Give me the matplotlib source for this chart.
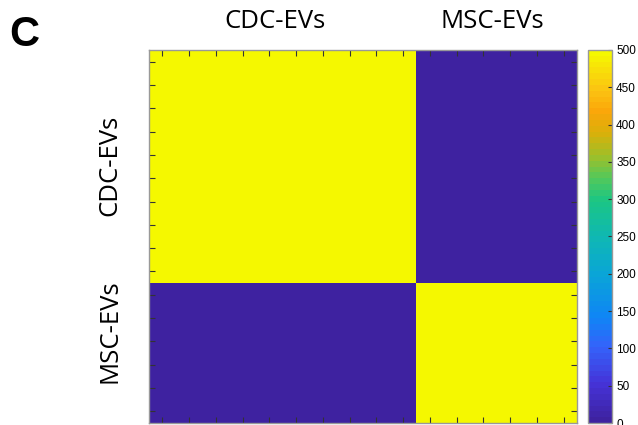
import numpy as np
import matplotlib
matplotlib.use("Agg")
import matplotlib.pyplot as plt
from matplotlib.colors import LinearSegmentedColormap

# ---- data ----
groups = ["CDC-EVs", "MSC-EVs"]
group_sizes = [10, 6]
within_value = 500
between_value = 0
cbar_ticks = [0, 50, 100, 150, 200, 250, 300, 350, 400, 450, 500]

n = sum(group_sizes)
labels = np.repeat(np.arange(len(groups)), group_sizes)
matrix = np.where(labels[:, None] == labels[None, :], within_value, between_value)

# parula-like colormap
anchors = [
    (0.00, "#3e22a0"), (0.10, "#4533d8"), (0.20, "#3463fa"), (0.28, "#0f85f5"),
    (0.40, "#0aa6d6"), (0.50, "#0fb8b2"), (0.60, "#1cc683"), (0.66, "#55c85a"),
    (0.72, "#a0bf28"), (0.78, "#d8b00a"), (0.84, "#fba60a"), (0.90, "#fbc412"),
    (1.00, "#f5f800"),
]
cmap = LinearSegmentedColormap.from_list("parula_like", anchors, N=64)

fig = plt.figure(figsize=(6.38, 4.25), dpi=100)
W, H = 638, 425
ax = fig.add_axes([149 / W, 1 - 423 / H, 428 / W, 373 / H])
im = ax.imshow(matrix, cmap=cmap, vmin=0, vmax=500, aspect="auto",
               interpolation="nearest")
ax.set_xticks(np.arange(n))
ax.set_yticks(np.arange(n))
ax.set_xticklabels([])
ax.set_yticklabels([])
ax.tick_params(direction="in", length=4, width=0.8, color="#333333",
               top=True, bottom=True, left=True, right=True)
for s in ax.spines.values():
    s.set_color("#999999")
    s.set_linewidth(1.0)

cax = fig.add_axes([588 / W, 1 - 423 / H, 24 / W, 373 / H])
cb = fig.colorbar(im, cax=cax, ticks=cbar_ticks)
cb.ax.tick_params(direction="in", length=3, width=0.8, color="#333333",
                  labelsize=8.5, pad=3)
cb.outline.set_edgecolor("#999999")
cb.outline.set_linewidth(1.0)
for t in cb.ax.get_yticklabels():
    t.set_family("Liberation Sans")

# group labels
font = "Open Sans"
top_x = [275, 492]
for g, x in zip(groups, top_x):
    fig.text(x / W, 1 - 22 / H, g, ha="center", va="center", fontsize=18.5,
             family=font)
left_y = [165, 331]
for g, y in zip(groups, left_y):
    fig.text(110 / W, 1 - y / H, g, ha="center", va="center", fontsize=18.5,
             family=font, rotation=90)

fig.text(9 / W, 1 - 35 / H, "C", ha="left", va="center", fontsize=30,
         fontweight="bold", family="Liberation Sans")

fig.savefig("out.png", dpi=100)
